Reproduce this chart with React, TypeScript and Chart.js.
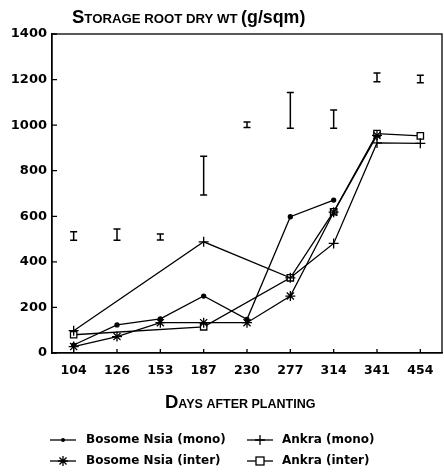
import React, { useEffect, useRef } from 'react';
import { Chart, registerables } from 'chart.js';

Chart.register(...registerables);

// ---- data ----
const days = ['104', '126', '153', '187', '230', '277', '314', '341', '454'];
const bosomeMono = [35, 123, 150, 250, 148, 598, 671, null, null];
const ankraMono = [98, null, null, 488, null, 330, 481, 922, 920];
const bosomeInter = [28, 72, 133, 133, 133, 250, 618, 955, null];
const ankraInter = [80, null, null, 115, null, 330, 620, 963, 953];
const lsdLow = [495, 495, 496, 693, 990, 986, 986, 1190, 1186];
const lsdHigh = [532, 544, 522, 864, 1014, 1143, 1066, 1229, 1219];
const seriesLabels = ['Bosome Nsia (mono)', 'Ankra (mono)', 'Bosome Nsia (inter)', 'Ankra (inter)'];
const seriesMarkers = ['circle', 'cross', 'star', 'rect'];
const yMin = 0;
const yMax = 1400;
const yStep = 200;

const TITLE_FONT = '"Liberation Sans", Arial, sans-serif';
const TICK_FONT = '"DejaVu Sans", sans-serif';

function drawMarker(ctx: CanvasRenderingContext2D, style: string, x: number, y: number) {
  ctx.save();
  ctx.strokeStyle = '#000';
  ctx.fillStyle = '#000';
  ctx.lineWidth = 1.3;
  ctx.beginPath();
  if (style === 'circle') {
    ctx.arc(x, y, 2, 0, Math.PI * 2);
    ctx.fill();
  } else if (style === 'cross') {
    ctx.moveTo(x - 5, y); ctx.lineTo(x + 5, y);
    ctx.moveTo(x, y - 5); ctx.lineTo(x, y + 5);
    ctx.stroke();
  } else if (style === 'star') {
    const r = 5;
    const d = r * Math.SQRT1_2;
    ctx.moveTo(x - r, y); ctx.lineTo(x + r, y);
    ctx.moveTo(x, y - r); ctx.lineTo(x, y + r);
    ctx.moveTo(x - d, y - d); ctx.lineTo(x + d, y + d);
    ctx.moveTo(x - d, y + d); ctx.lineTo(x + d, y - d);
    ctx.stroke();
  } else if (style === 'rect') {
    ctx.fillStyle = '#fff';
    ctx.fillRect(x - 4, y - 4, 8, 8);
    ctx.strokeRect(x - 4, y - 4, 8, 8);
  }
  ctx.restore();
}

function drawSmallCaps(ctx: CanvasRenderingContext2D, parts: { t: string; size: number }[], x: number, y: number) {
  let cx = x;
  for (const p of parts) {
    ctx.font = `bold ${p.size}px ${TITLE_FONT}`;
    ctx.fillText(p.t, cx, y);
    cx += ctx.measureText(p.t).width;
  }
}

const decorPlugin = {
  id: 'decor',
  afterDatasetsDraw(chart: any) {
    const { ctx, chartArea, scales } = chart;
    const xs = scales.x;
    const ys = scales.y;
    ctx.save();
    ctx.strokeStyle = '#000';
    ctx.lineWidth = 1.5;
    // LSD bars
    for (let i = 0; i < days.length; i++) {
      const x = xs.getPixelForValue(i);
      const y1 = ys.getPixelForValue(lsdLow[i]);
      const y2 = ys.getPixelForValue(lsdHigh[i]);
      ctx.beginPath();
      ctx.moveTo(x, y1); ctx.lineTo(x, y2);
      ctx.moveTo(x - 3.5, y1); ctx.lineTo(x + 3.5, y1);
      ctx.moveTo(x - 3.5, y2); ctx.lineTo(x + 3.5, y2);
      ctx.stroke();
    }
    // frame
    ctx.lineWidth = 1.3;
    ctx.strokeRect(chartArea.left, chartArea.top, chartArea.right - chartArea.left, chartArea.bottom - chartArea.top);
    // inward ticks
    ctx.beginPath();
    for (let v = yMin; v <= yMax; v += yStep) {
      const y = ys.getPixelForValue(v);
      ctx.moveTo(chartArea.left, y); ctx.lineTo(chartArea.left + 5, y);
    }
    for (let i = 0; i < days.length; i++) {
      const x = xs.getPixelForValue(i);
      ctx.moveTo(x, chartArea.bottom); ctx.lineTo(x, chartArea.bottom - 4);
    }
    ctx.stroke();
    ctx.restore();
  },
  afterDraw(chart: any) {
    const { ctx } = chart;
    ctx.save();
    ctx.fillStyle = '#000';
    ctx.textBaseline = 'alphabetic';
    ctx.textAlign = 'left';
    // chart title
    drawSmallCaps(ctx, [
      { t: 'S', size: 18.5 },
      { t: 'TORAGE ROOT DRY WT ', size: 13.2 },
      { t: '(g/sqm)', size: 17.8 },
    ], 72, 23);
    // x axis title
    drawSmallCaps(ctx, [
      { t: 'D', size: 18.5 },
      { t: 'AYS AFTER PLANTING', size: 12.5 },
    ], 165, 408);
    // legend
    const colSym = [50, 247];
    const colText = [86, 282];
    const rowY = [440, 461];
    ctx.font = `bold 12px ${TICK_FONT}`;
    ctx.textBaseline = 'middle';
    for (let i = 0; i < seriesLabels.length; i++) {
      const c = i % 2;
      const r = Math.floor(i / 2);
      const y = rowY[r];
      ctx.strokeStyle = '#000';
      ctx.lineWidth = 1.3;
      ctx.beginPath();
      ctx.moveTo(colSym[c], y); ctx.lineTo(colSym[c] + 26, y);
      ctx.stroke();
      drawMarker(ctx, seriesMarkers[i], colSym[c] + 13, y);
      ctx.fillStyle = '#000';
      ctx.fillText(seriesLabels[i], colText[c], y);
    }
    ctx.restore();
  },
};

export default function App() {
  const ref = useRef<HTMLCanvasElement | null>(null);
  useEffect(() => {
    if (!ref.current) return;
    const values = [bosomeMono, ankraMono, bosomeInter, ankraInter];
    const chart = new Chart(ref.current, {
      type: 'line',
      data: {
        labels: days,
        datasets: values.map((d, i) => ({
          label: seriesLabels[i],
          data: d,
          borderColor: '#000',
          borderWidth: 1.3,
          pointStyle: seriesMarkers[i] as any,
          pointRadius: seriesMarkers[i] === 'circle' ? 2 : seriesMarkers[i] === 'rect' ? 4.5 : 5,
          pointBorderWidth: 1.3,
          pointBorderColor: '#000',
          pointBackgroundColor: seriesMarkers[i] === 'rect' ? '#fff' : '#000',
          spanGaps: true,
          tension: 0,
          fill: false,
        })),
      },
      options: {
        responsive: false,
        animation: false,
        devicePixelRatio: 1,
        layout: { autoPadding: false, padding: { top: 34, right: 2, left: 0, bottom: 0 } },
        plugins: {
          legend: { display: false },
          title: { display: false },
          tooltip: { enabled: false },
        },
        scales: {
          x: {
            type: 'category',
            offset: true,
            grid: { display: false, drawTicks: false },
            border: { display: true, color: '#000', width: 1.3 },
            ticks: {
              color: '#000',
              font: { family: TICK_FONT, weight: 'bold', size: 12.5 },
              padding: 10,
              maxRotation: 0,
              autoSkip: false,
            },
            afterFit: (s: any) => { s.height = 119; s.paddingLeft = 0; s.paddingRight = 0; },
          },
          y: {
            min: yMin,
            max: yMax,
            grid: { display: false, drawTicks: false },
            border: { display: true, color: '#000', width: 1.3 },
            ticks: {
              stepSize: yStep,
              color: '#000',
              font: { family: TICK_FONT, weight: 'bold', size: 13 },
              padding: 5,
              callback: (v: any) => String(v),
            },
            afterFit: (s: any) => { s.width = 52; s.paddingTop = 0; s.paddingBottom = 0; },
          },
        },
      },
      plugins: [decorPlugin],
    });
    return () => chart.destroy();
  }, []);
  return (
    <div style={{ position: 'absolute', left: 0, top: 0, width: 444, height: 472, background: '#fff' }}>
      <canvas ref={ref} width={444} height={472} style={{ display: 'block' }} />
    </div>
  );
}
